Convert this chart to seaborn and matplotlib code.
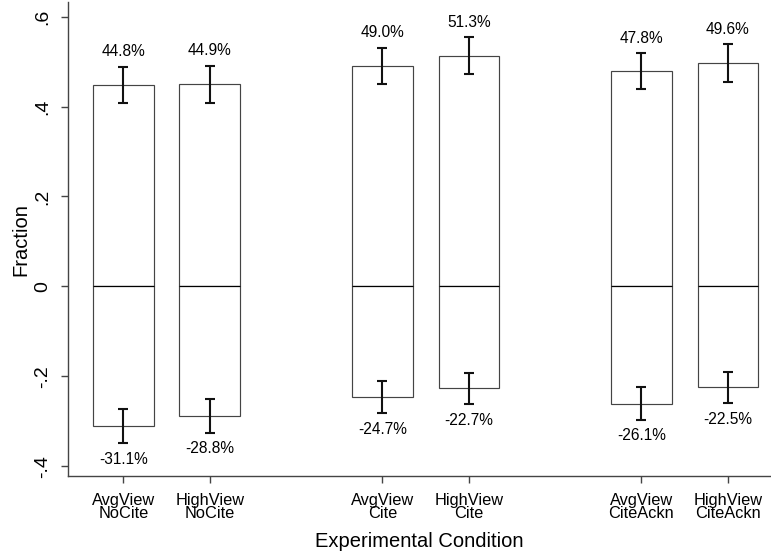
import numpy as np
import pandas as pd
import seaborn as sns
import matplotlib.pyplot as plt

# values
conditions = ["NoCite", "Cite", "CiteAckn"]
views = ["AvgView", "HighView"]
pos_share = [0.448, 0.449, 0.490, 0.513, 0.478, 0.496]
neg_share = [-0.311, -0.288, -0.247, -0.227, -0.261, -0.225]
pos_err = [0.041, 0.042, 0.041, 0.041, 0.040, 0.042]
neg_err = [0.038, 0.038, 0.036, 0.035, 0.036, 0.035]
y_ticks = [-0.4, -0.2, 0, 0.2, 0.4, 0.6]
y_ticklabels = ["-.4", "-.2", "0", ".2", ".4", ".6"]


def main():
    sns.set_theme(style="ticks")
    plt.rcParams["font.family"] = ["Liberation Sans", "DejaVu Sans"]
    for key in ["text.color", "axes.labelcolor", "xtick.labelcolor", "ytick.labelcolor"]:
        plt.rcParams[key] = "black"

    # groups of two bars with one empty slot between groups
    rows = []
    i = 0
    for g, cond in enumerate(conditions):
        for v, view in enumerate(views):
            rows.append({"x": 3 * g + v, "label": f"{view}\n{cond}",
                         "pos": pos_share[i], "neg": neg_share[i],
                         "pos_err": pos_err[i], "neg_err": neg_err[i]})
            i += 1
    df = pd.DataFrame(rows)

    fig = plt.figure(figsize=(7.71, 5.58), dpi=100)
    ax = fig.add_axes([0.088, 0.147, 0.912, 0.849])

    edge = "#444444"
    for col in ["pos", "neg"]:
        sns.barplot(data=df, x="x", y=col, native_scale=True, width=0.7,
                    color="white", edgecolor=edge, linewidth=0.85,
                    errorbar=None, ax=ax)

    # zero line across each bar
    xs = df["x"].to_numpy(dtype=float)
    ax.hlines(np.zeros(len(xs)), xs - 0.35, xs + 0.35, color="black", lw=0.8, zorder=3)

    ax.errorbar(xs, df["pos"], yerr=df["pos_err"], fmt="none",
                ecolor="#111111", elinewidth=1.5, capsize=3.3, capthick=1.5, zorder=4)
    ax.errorbar(xs, df["neg"], yerr=df["neg_err"], fmt="none",
                ecolor="#111111", elinewidth=1.5, capsize=3.3, capthick=1.5, zorder=4)

    for _, r in df.iterrows():
        ax.annotate(f"{r['pos'] * 100:.1f}%", (r["x"], r["pos"] + r["pos_err"]),
                    xytext=(0, 11), textcoords="offset points",
                    ha="center", va="center", fontsize=11.2, color="black")
        ax.annotate(f"{r['neg'] * 100:.1f}%", (r["x"], r["neg"] - r["neg_err"]),
                    xytext=(0, -11.5), textcoords="offset points",
                    ha="center", va="center", fontsize=11.2, color="black")

    ax.set_xlim(-0.643, 7.5)
    ax.set_ylim(-0.422, 0.632)
    ax.set_xticks(xs)
    ax.set_xticklabels(df["label"], fontsize=11.8, linespacing=0.85)
    ax.set_yticks(y_ticks)
    ax.set_yticklabels(y_ticklabels, rotation=90, va="center", fontsize=14)
    ax.tick_params(axis="both", length=5, width=1, color="#444444")
    ax.tick_params(axis="x", pad=7)
    ax.tick_params(axis="y", pad=7)

    ax.set_xlabel("Experimental Condition", fontsize=14.5, labelpad=8)
    ax.set_ylabel("Fraction", fontsize=14.5, labelpad=3)

    sns.despine(ax=ax)
    for s in ["left", "bottom"]:
        ax.spines[s].set_color("#444444")
        ax.spines[s].set_linewidth(1.0)

    fig.savefig("out.png", dpi=100)


if __name__ == "__main__":
    main()
